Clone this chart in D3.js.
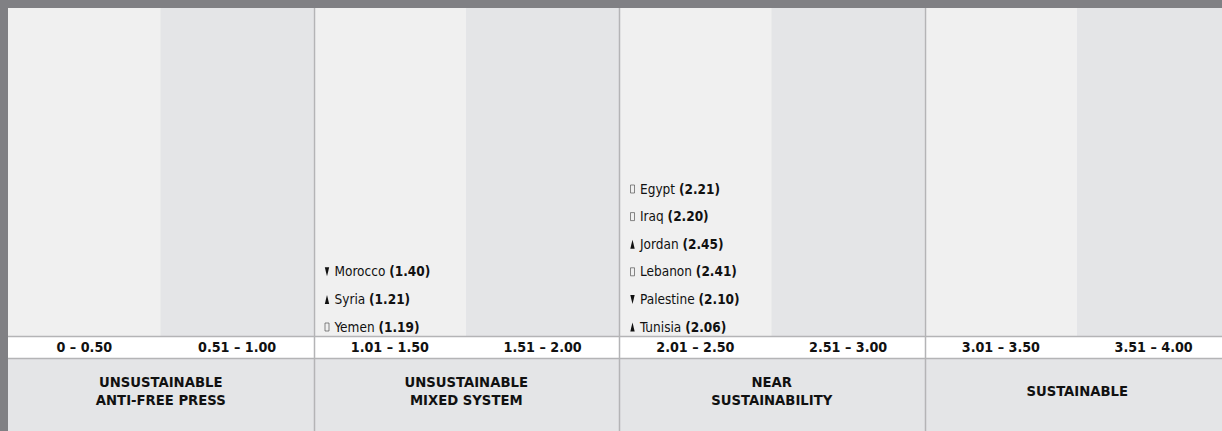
<!DOCTYPE html>
<meta charset="utf-8">
<script src="https://d3js.org/d3.v7.min.js"></script>
<style>
  body { margin: 0; background: #808084; }
  svg { display: block; }
  text { font-family: "DejaVu Sans Condensed", "Liberation Sans", sans-serif; }
</style>
<svg id="chart"></svg>
<script>
// score bins along the bottom
var ranges = ["0 – 0.50", "0.51 – 1.00", "1.01 – 1.50", "1.51 – 2.00",
              "2.01 – 2.50", "2.51 – 3.00", "3.01 – 3.50", "3.51 – 4.00"];
var categories = [["UNSUSTAINABLE", "ANTI-FREE PRESS"], ["UNSUSTAINABLE", "MIXED SYSTEM"],
                  ["NEAR", "SUSTAINABILITY"], ["SUSTAINABLE"]];

// countries, their scores and the change marker (listed top to bottom)
var countries = ["Morocco", "Syria", "Yemen", "Egypt", "Iraq", "Jordan", "Lebanon", "Palestine", "Tunisia"];
var scores = [1.40, 1.21, 1.19, 2.21, 2.20, 2.45, 2.41, 2.10, 2.06];
var trends = ["down", "up", "same", "same", "same", "up", "same", "down", "up"];

var width = 1222, height = 431;
var svg = d3.select("#chart").attr("width", width).attr("height", height);

var padL = 8, padT = 8;
var x = d3.scaleLinear().domain([0, 4]).range([padL, 1230]);
var rangeTop = 336, rangeBottom = 358;

// row position counted from the bottom of each column
var y = d3.scaleLinear().domain([0, 1]).range([331.5, 303.9]);

// panel background
svg.append("rect").attr("x", padL).attr("y", padT).attr("width", width - padL).attr("height", height - padT)
  .attr("fill", "#e4e5e7");

// alternating columns
svg.append("g").selectAll("rect")
  .data(ranges)
  .enter().append("rect")
  .attr("x", function (d, i) { return x(i * 0.5); })
  .attr("y", padT)
  .attr("width", function (d, i) { return x((i + 1) * 0.5) - x(i * 0.5); })
  .attr("height", rangeTop - padT)
  .attr("fill", function (d, i) { return i % 2 == 0 ? "#f0f0f0" : "#e4e5e7"; });

// range band
svg.append("rect").attr("x", padL).attr("y", rangeTop).attr("width", width - padL)
  .attr("height", rangeBottom - rangeTop).attr("fill", "#fff");
svg.append("g").selectAll("line")
  .data([rangeTop, rangeBottom])
  .enter().append("line")
  .attr("x1", padL).attr("x2", width)
  .attr("y1", function (d) { return d + 0.5; }).attr("y2", function (d) { return d + 0.5; })
  .attr("stroke", "#b4b4b6").attr("stroke-width", 1.5);

svg.append("g").selectAll("text")
  .data(ranges)
  .enter().append("text")
  .attr("x", function (d, i) { return x(i * 0.5 + 0.25); })
  .attr("y", 352)
  .attr("text-anchor", "middle")
  .style("font-size", "14.2px").style("font-weight", "bold").style("fill", "#111")
  .text(function (d) { return d; });

// group separators
svg.append("g").selectAll("line")
  .data([1, 2, 3])
  .enter().append("line")
  .attr("x1", function (d) { return Math.round(x(d)) + 0.5; })
  .attr("x2", function (d) { return Math.round(x(d)) + 0.5; })
  .attr("y1", padT).attr("y2", height)
  .attr("stroke", "#b4b4b6").attr("stroke-width", 1.5);

// category names
var cat = svg.append("g").selectAll("text")
  .data(categories)
  .enter().append("text")
  .attr("x", function (d, i) { return x(i + 0.5); })
  .attr("y", function (d) { return d.length == 1 ? 396 : 387; })
  .attr("text-anchor", "middle")
  .style("font-size", "14.7px").style("font-weight", "bold").style("fill", "#111");
cat.selectAll("tspan")
  .data(function (d) { return d; })
  .enter().append("tspan")
  .attr("x", function () { return d3.select(this.parentNode).attr("x"); })
  .attr("dy", function (d, i) { return i == 0 ? 0 : 18; })
  .text(function (d) { return d; });

// country labels stacked in their bin
var bin = scores.map(function (s) { return Math.ceil(s * 2) - 1; });
var rows = countries.map(function (c, i) {
  var same = d3.range(countries.length).filter(function (j) { return bin[j] == bin[i]; });
  return { name: c, score: scores[i], trend: trends[i], bin: bin[i],
           row: same.length - 1 - same.indexOf(i) };
});

var lab = svg.append("g").selectAll("g")
  .data(rows)
  .enter().append("g")
  .attr("transform", function (d) { return "translate(" + (x(d.bin * 0.5) + 11) + "," + y(d.row) + ")"; });

lab.append("path")
  .attr("d", function (d) {
    if (d.trend == "up") return "M2.5,-9L0.3,0L4.7,0Z";
    if (d.trend == "down") return "M0.3,-9L4.7,-9L2.5,0Z";
    return "M0.5,-8.5H4.5V-0.5H0.5Z";
  })
  .attr("fill", function (d) { return d.trend == "same" ? "none" : "#111"; })
  .attr("stroke", function (d) { return d.trend == "same" ? "#555" : "none"; })
  .attr("stroke-width", 0.7);

var t = lab.append("text")
  .attr("x", 10)
  .style("font-size", "13.5px").style("fill", "#111");
t.append("tspan").text(function (d) { return d.name + " "; });
t.append("tspan").style("font-weight", "bold").text(function (d) { return "(" + d.score.toFixed(2) + ")"; });
</script>
